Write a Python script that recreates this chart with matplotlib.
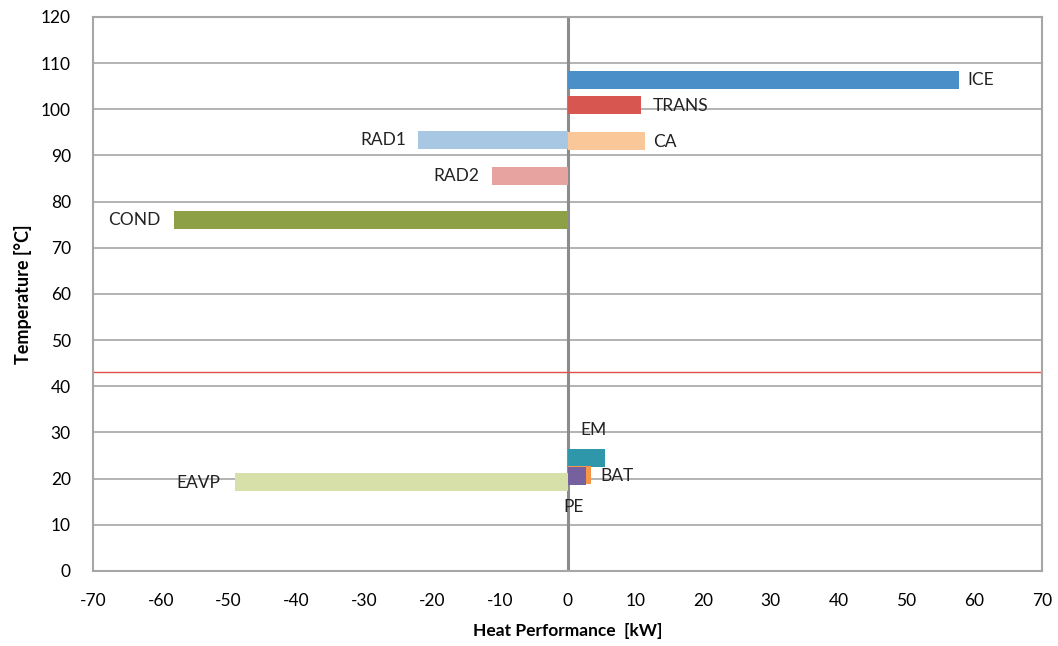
import matplotlib
matplotlib.use("Agg")
import matplotlib.pyplot as plt

plt.rcParams['font.family'] = ['Lato', 'DejaVu Sans']
plt.rcParams['axes.unicode_minus'] = False

# components: name, temperature level [°C], heat performance [kW]
names = ["EAVP", "COND", "RAD2", "RAD1", "CA", "TRANS", "ICE", "EM", "BAT", "PE"]
temps = [19.3, 76.0, 85.5, 93.3, 93.1, 100.9, 106.3, 24.5, 20.8, 20.6]
power = [-49.0, -58.0, -11.1, -22.0, 11.5, 10.9, 57.7, 5.6, 3.5, 2.8]
colors = ["#D7E0A8", "#8EA046", "#E6A3A0", "#A7C7E3", "#FAC898",
          "#D85650", "#4A8FC8", "#2E98AA", "#F79646", "#77609E"]

# label anchor positions (x, y, ha)
label_pos = {
    "ICE": (59.0, 106.3, "left"),
    "TRANS": (12.6, 100.7, "left"),
    "CA": (12.6, 93.0, "left"),
    "RAD1": (-23.8, 93.3, "right"),
    "RAD2": (-13.0, 85.5, "right"),
    "COND": (-60.0, 76.0, "right"),
    "EM": (1.9, 30.5, "left"),
    "BAT": (4.9, 20.6, "left"),
    "PE": (-0.6, 13.9, "left"),
    "EAVP": (-51.3, 19.0, "right"),
}

ambient = 43.1

fig = plt.figure(figsize=(10.58, 6.46), dpi=100)
ax = fig.add_axes([0.0879, 0.1161, 0.897, 0.8576])

grid_c = "#A6A6A6"
ax.set_xlim(-70, 70)
ax.set_ylim(0, 120)
ax.set_xticks(range(-70, 71, 10))
ax.set_yticks(range(0, 121, 10))
ax.yaxis.grid(True, color=grid_c, lw=1.2)
ax.set_axisbelow(True)
for s in ax.spines.values():
    s.set_color(grid_c)
    s.set_linewidth(1.5)
ax.tick_params(length=0, labelsize=12.5)
ax.tick_params(axis="x", pad=16)
ax.tick_params(axis="y", pad=16)

ax.axvline(0, color="#8C8C8C", lw=2.2, zorder=1)
ax.axhline(ambient, color="#E05050", lw=1.0, zorder=1)

for n, t, p, c in zip(names, temps, power, colors):
    ax.barh(t, p, height=3.9, color=c, zorder=3)
    lx, ly, ha = label_pos[n]
    ax.text(lx, ly, n, ha=ha, va="center", fontsize=12.5, color="#222222", zorder=4)

ax.set_xlabel("Heat Performance  [kW]", fontsize=12.5, fontweight="bold", labelpad=10)
ax.set_ylabel("Temperature [°C]", fontsize=13, fontweight="bold", labelpad=6)

fig.savefig("out.png", dpi=100)
